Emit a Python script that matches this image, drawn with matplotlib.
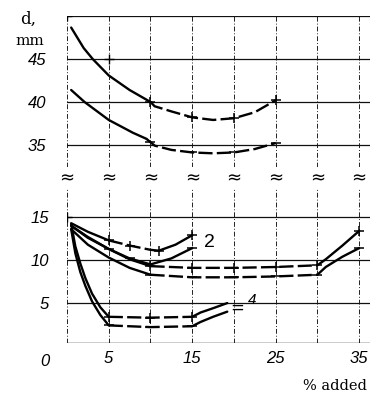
import matplotlib
matplotlib.use("Agg")
import matplotlib.pyplot as plt
import matplotlib.transforms as mtransforms

# ---------------- data ----------------
# upper panel (d, mm, 33..50)
upA_x = [0.5, 2.0, 3.1, 5.0, 7.5, 10.0, 10.5, 12.5, 15.0, 17.5, 20.0, 22.5, 25.0]
upA_y = [48.7, 46.3, 45.0, 43.1, 41.4, 40.0, 39.5, 38.9, 38.2, 37.9, 38.1, 38.8, 40.2]
upB_x = [0.5, 2.1, 5.0, 7.9, 9.5, 10.5, 12.5, 15.0, 17.5, 20.0, 22.5, 25.0]
upB_y = [41.4, 40.0, 37.9, 36.4, 35.7, 34.9, 34.4, 34.1, 34.0, 34.1, 34.5, 35.2]

# lower panel (d, mm, 0..18)
s2p_x = [0.5, 2.5, 5.0, 7.5, 10.0, 11.0, 13.0, 15.0]
s2p_y = [14.3, 13.3, 12.3, 11.7, 11.2, 11.1, 11.8, 12.9]
s2m_x = [0.5, 2.5, 5.0, 7.5, 10.0, 12.5, 15.0]
s2m_y = [14.0, 12.7, 11.3, 10.2, 9.5, 10.2, 11.4]
smp_x = [0.5, 2.5, 5.0, 7.5, 10.0, 15.0, 20.0, 25.0, 30.0, 31.0, 33.0, 35.0]
smp_y = [14.0, 12.6, 11.3, 10.1, 9.3, 9.1, 9.1, 9.2, 9.4, 10.1, 11.7, 13.4]
smm_x = [0.5, 2.5, 5.0, 7.5, 10.0, 15.0, 20.0, 25.0, 30.0, 31.0, 33.0, 35.0]
smm_y = [13.6, 11.8, 10.3, 9.1, 8.3, 8.0, 8.0, 8.1, 8.3, 9.2, 10.4, 11.4]
s4p_x = [0.5, 1.0, 1.6, 2.2, 3.0, 4.0, 5.0, 10.0, 15.0, 16.0, 17.5, 19.2]
s4p_y = [14.2, 11.6, 9.6, 7.9, 6.1, 4.5, 3.4, 3.3, 3.4, 3.9, 4.4, 5.0]
s4m_x = [0.5, 1.0, 1.6, 2.2, 3.0, 4.0, 5.0, 10.0, 15.0, 16.0, 17.5, 19.2]
s4m_y = [13.6, 10.8, 8.6, 7.0, 5.2, 3.6, 2.4, 2.2, 2.3, 2.8, 3.4, 4.0]

# marker positions (x values) on each series
upA_mk = [10, 15, 20, 25]
upB_mk = [10, 15, 20, 25]
s2p_mk = [5, 7.5, 11, 15]
s2m_mk = [5, 7.5, 15]
smp_mk = [10, 15, 20, 25, 30, 35]
smm_mk = [10, 15, 20, 25, 30, 35]
s4p_mk = [5, 10, 15]
s4m_mk = [5, 10, 15]

upper_ticks = [35, 40, 45]
lower_ticks = [5, 10, 15]
x_ticks = [5, 15, 25, 35]
x_grid = [0, 5, 10, 15, 20, 25, 30, 35]

# ---------------- figure ----------------
fig = plt.figure(figsize=(3.7, 4.04), dpi=100)
L = 67 / 370
W = 303 / 370
axU = fig.add_axes([L, 1 - 167 / 404, W, 151 / 404])
axL = fig.add_axes([L, 1 - 343 / 404, W, 155 / 404])

XMAX = 36.3
axU.set_xlim(0, XMAX)
axU.set_ylim(32.4, 50.05)
axL.set_xlim(0, XMAX)
axL.set_ylim(0.35, 18.4)

tick_font = dict(family="Liberation Sans", style="italic", size=12)
vgrid = dict(color="#222222", lw=0.7, ls=(0, (5, 2, 1, 2)))
hgrid = dict(color="#111111", lw=0.9, ls="-")

for ax in (axU, axL):
    for s in ax.spines.values():
        s.set_visible(False)
    for x in x_grid:
        ax.axvline(x, **vgrid, zorder=1)
    ax.tick_params(length=0)

for y in [35, 40, 45, 50]:
    axU.axhline(y, **hgrid, zorder=1)
for y in [5, 10, 15]:
    axL.axhline(y, **hgrid, zorder=1)
axL.axhline(0.35, color="black", lw=1.0, zorder=1)

axU.set_xticks([])
axU.set_yticks(upper_ticks)
axU.set_yticklabels([str(t) for t in upper_ticks], fontdict=tick_font)
axU.tick_params(axis="y", pad=15)

axL.set_yticks(lower_ticks)
axL.set_yticklabels([str(t) for t in lower_ticks], fontdict=tick_font)
axL.tick_params(axis="y", pad=13)
axL.set_xticks(x_ticks)
axL.set_xticklabels([str(t) for t in x_ticks], fontdict=tick_font)
axL.tick_params(axis="x", pad=6)


def draw(ax, xs, ys, dash_lo, dash_hi, mk_x, marker):
    # solid before dash_lo, dashed in [dash_lo, dash_hi], solid after
    segs = [[], [], []]
    for x, y in zip(xs, ys):
        if x < dash_lo:
            segs[0].append((x, y))
        elif x <= dash_hi:
            segs[1].append((x, y))
        else:
            segs[2].append((x, y))
    if segs[0] and segs[1]:
        segs[1].insert(0, segs[0][-1])
    if segs[1] and segs[2]:
        segs[2].insert(0, segs[1][-1])
    styles = ["-", (0, (6, 1.8)), "-"]
    for seg, st in zip(segs, styles):
        if len(seg) > 1:
            ax.plot([p[0] for p in seg], [p[1] for p in seg], color="black",
                    lw=1.7, ls=st, solid_capstyle="round", zorder=3)
    for mx in mk_x:
        for i in range(len(xs) - 1):
            if xs[i] <= mx <= xs[i + 1]:
                t = (mx - xs[i]) / (xs[i + 1] - xs[i]) if xs[i + 1] != xs[i] else 0
                my = ys[i] + t * (ys[i + 1] - ys[i])
                ax.plot([mx], [my], marker=marker, color="black", ms=7,
                        mew=1.1, zorder=4)
                break


draw(axU, upA_x, upA_y, 10.2, 25.1, upA_mk, "+")
draw(axU, upB_x, upB_y, 10.2, 25.1, upB_mk, "_")
draw(axL, s2p_x, s2p_y, 5.5, 11.5, s2p_mk, "+")
draw(axL, s2m_x, s2m_y, 99, 99, s2m_mk, "_")
draw(axL, smp_x, smp_y, 10.5, 30.5, smp_mk, "+")
draw(axL, smm_x, smm_y, 10.5, 30.5, smm_mk, "_")
draw(axL, s4p_x, s4p_y, 5.5, 15.5, s4p_mk, "+")
draw(axL, s4m_x, s4m_y, 5.5, 15.5, s4m_mk, "_")

# grid intersection marks
axU.plot([0, 5], [50, 45], ls="none", marker="+", color="black", ms=7, mew=1.0)
axL.plot([0], [15], ls="none", marker="+", color="black", ms=7, mew=1.0)

# curve labels
axL.text(17.1, 12.1, "2", fontsize=14, family="Liberation Sans", ha="center", va="center")
axL.text(20.4, 4.5, "=", fontsize=12, family="DejaVu Sans", ha="center", va="center")
axL.text(22.2, 5.4, "4", fontsize=11, family="Liberation Sans", style="italic",
         ha="center", va="center")

# axis break marks
trans = mtransforms.blended_transform_factory(axL.transData, fig.transFigure)
for x in x_grid:
    fig.text(x, 1 - 178 / 404, "\u2248", transform=trans, ha="center", va="center",
             fontsize=13, family="DejaVu Sans")

# axis titles
fig.text(28 / 370, 1 - 19 / 404, "d,", family="DejaVu Serif", fontsize=12,
         ha="center", va="center")
fig.text(30 / 370, 1 - 41 / 404, "mm", family="DejaVu Serif", fontsize=11,
         ha="center", va="center")
fig.text(45 / 370, 1 - 362 / 404, "0", fontdict=tick_font, ha="center", va="center")
fig.text(335 / 370, 1 - 386 / 404, "% added", family="DejaVu Serif", fontsize=10.5,
         ha="center", va="center")

fig.savefig("out.png", dpi=100)
